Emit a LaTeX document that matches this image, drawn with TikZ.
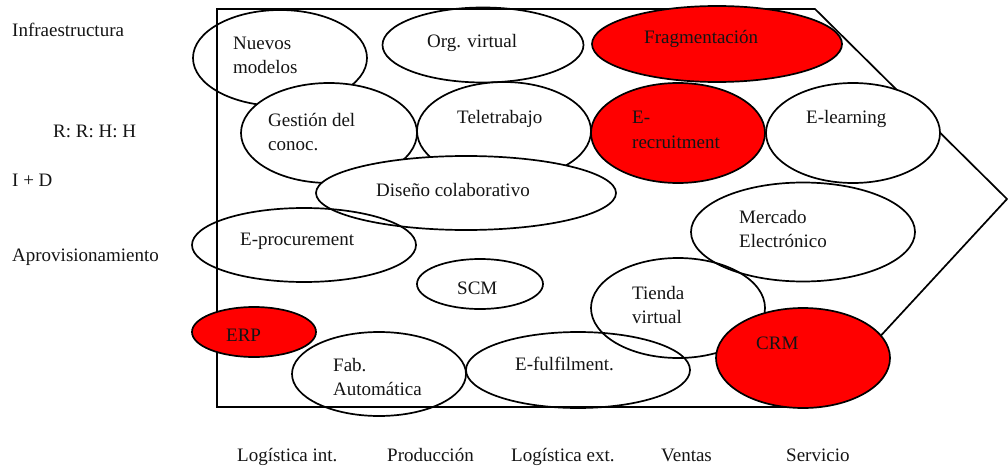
\documentclass[tikz,border=0pt]{standalone}
\usepackage{fontspec}
\setmainfont{Liberation Serif}
\usetikzlibrary{shapes.geometric}
\definecolor{redfill}{RGB}{255,0,0}
\definecolor{ink}{RGB}{20,20,20}
\begin{document}
\begin{tikzpicture}[x=1pt,y=-1pt,
  bubble/.style={draw, ellipse, line width=1.7pt, inner sep=0pt},
  redbubble/.style={bubble, fill=redfill},
  whitebubble/.style={bubble, fill=white},
  txt/.style={anchor=base west, inner sep=0pt, text=ink, font=\fontsize{19}{24}\selectfont},
]
\useasboundingbox (0,0) rectangle (1008,468);
% frame (value chain arrow)
\coordinate (b1) at (217,9);
\coordinate (b2) at (815,9);
\coordinate (b3) at (1007,199);
\coordinate (b4) at (815,407);
\coordinate (b5) at (217,407);
\draw[line width=1.7pt, line join=miter] (b1) -- (b2) -- (b3) -- (b4) -- (b5) -- cycle;

% ellipses
\node[bubble, minimum width=174pt, minimum height=96pt] (nuevos) at (280,58) {};
\node[bubble, minimum width=201pt, minimum height=75pt] (org) at (483,45) {};
\node[redbubble, minimum width=250pt, minimum height=76pt] (frag) at (717,44) {};
\node[whitebubble, minimum width=176pt, minimum height=100pt] (gestion) at (329,133) {};
\node[whitebubble, minimum width=174pt, minimum height=98pt] (tele) at (504,131) {};
\node[redbubble, minimum width=174pt, minimum height=100pt] (erec) at (678,133) {};
\node[whitebubble, minimum width=174pt, minimum height=100pt] (elearn) at (853,133) {};
\node[whitebubble, minimum width=300pt, minimum height=74pt] (diseno) at (466,193) {};
\node[bubble, minimum width=224pt, minimum height=99pt] (mercado) at (803,232) {};
\node[bubble, minimum width=224pt, minimum height=74pt] (eproc) at (304,245) {};
\node[bubble, minimum width=126pt, minimum height=50pt] (scm) at (480,284) {};
\node[bubble, minimum width=174pt, minimum height=100pt] (tienda) at (678,308) {};
\node[bubble, minimum width=224pt, minimum height=76pt] (eful) at (578,370) {};
\node[bubble, minimum width=174pt, minimum height=84pt] (fab) at (379,374) {};
\node[redbubble, minimum width=124pt, minimum height=50pt] (erp) at (254,332) {};
\node[redbubble, minimum width=174pt, minimum height=100pt] (crm) at (803,358) {};

% ellipse texts
\node[txt] (tnuevos1) at (233,50) {Nuevos};
\node[txt] (tnuevos2) at (233,74) {modelos};
\node[txt] (torg) at (427,48) {Org. virtual};
\node[txt] (tfrag) at (644,44) {Fragmentación};
\node[txt] (tgest1) at (268,126) {Gestión del};
\node[txt] (tgest2) at (268,150) {conoc.};
\node[txt] (ttele) at (457,124) {Teletrabajo};
\node[txt] (terec1) at (632,124) {E-};
\node[txt] (terec2) at (632,148) {recruitment};
\node[txt] (telearn) at (806,124) {E-learning};
\node[txt] (tdis) at (376,196) {Diseño colaborativo};
\node[txt] (tmerc1) at (739,223) {Mercado};
\node[txt] (tmerc2) at (739,247) {Electrónico};
\node[txt] (teproc) at (240,245) {E-procurement};
\node[txt] (tscm) at (457,294) {SCM};
\node[txt] (ttien1) at (632,299) {Tienda};
\node[txt] (ttien2) at (632,323) {virtual};
\node[txt] (terp) at (226,341) {ERP};
\node[txt] (tfab1) at (333,371) {Fab.};
\node[txt] (tfab2) at (333,395) {Automática};
\node[txt] (teful) at (515,370) {E-fulfilment.};
\node[txt] (tcrm) at (756,349) {CRM};

% support activities
\node[txt] (sinfra) at (12,37) {Infraestructura};
\node[txt] (srrhh) at (53,137) {R: R: H: H};
\node[txt] (sid) at (12,186) {I + D};
\node[txt] (sapro) at (12,261) {Aprovisionamiento};

% primary activities
\node[txt] (plogi) at (237,461) {Logística int.};
\node[txt] (pprod) at (387,461) {Producción};
\node[txt] (ploge) at (511,461) {Logística ext.};
\node[txt] (pvent) at (661,461) {Ventas};
\node[txt] (pserv) at (786,461) {Servicio};
\end{tikzpicture}
\end{document}
